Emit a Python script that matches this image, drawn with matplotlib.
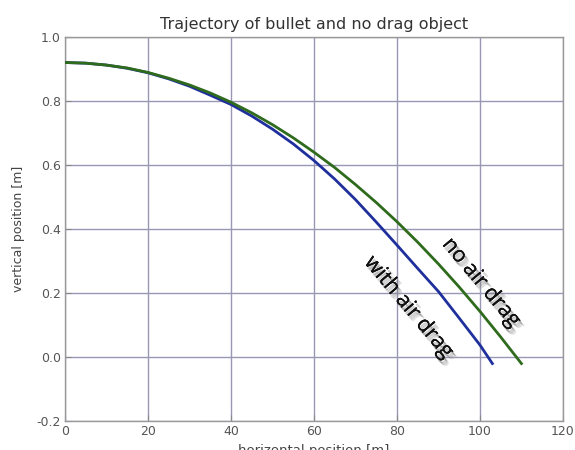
import matplotlib
matplotlib.use("Agg")
import matplotlib.pyplot as plt
import matplotlib.patheffects as pe

# horizontal positions [m] and heights [m]
x_nodrag = [0, 5, 10, 15, 20, 25, 30, 35, 40, 45, 50, 55, 60, 65, 70, 75,
            80, 85, 90, 95, 100, 105, 110]
y_nodrag = [0.920, 0.918, 0.912, 0.903, 0.889, 0.871, 0.850, 0.825, 0.796,
            0.763, 0.726, 0.685, 0.640, 0.592, 0.539, 0.483, 0.423, 0.359,
            0.291, 0.219, 0.143, 0.063, -0.020]

x_drag = [0, 5, 10, 15, 20, 25, 30, 35, 40, 45, 50, 55, 60, 65, 70, 75,
          80, 85, 90, 95, 100, 103]
y_drag = [0.920, 0.918, 0.912, 0.902, 0.888, 0.869, 0.846, 0.818, 0.789,
          0.753, 0.712, 0.666, 0.614, 0.556, 0.492, 0.422, 0.350, 0.277,
          0.205, 0.122, 0.038, -0.020]

xticks = [0, 20, 40, 60, 80, 100, 120]
yticks = [-0.2, 0.0, 0.2, 0.4, 0.6, 0.8, 1.0]

fig = plt.figure(figsize=(5.75, 4.5), dpi=100)
ax = fig.add_axes([0.113, 0.064, 0.866, 0.854])

ax.plot(x_drag, y_drag, color="#1f2f9c", linewidth=2.0, zorder=3)
ax.plot(x_nodrag, y_nodrag, color="#2f6b1c", linewidth=2.0, zorder=3)

ax.set_xlim(0, 120)
ax.set_ylim(-0.2, 1.0)
ax.set_xticks(xticks)
ax.set_yticks(yticks)
ax.set_xticklabels([str(v) for v in xticks])
ax.set_yticklabels([f"{v:.1f}" for v in yticks])
ax.tick_params(direction="in", length=4, color="#888888", labelcolor="#555555",
               labelsize=9, pad=3)
for s in ax.spines.values():
    s.set_color("#999999")
    s.set_linewidth(1.0)
ax.grid(True, color="#9898b4", linewidth=1.0, linestyle="-")
ax.set_axisbelow(True)

ax.set_title("Trajectory of bullet and no drag object", fontsize=11.5,
             color="#333333", pad=6)
ax.set_xlabel("horizontal position [m]", fontsize=9.5, color="#444444", labelpad=4)
ax.set_ylabel("vertical position [m]", fontsize=9, color="#444444", labelpad=8)

shadow = [pe.withSimplePatchShadow(offset=(3, -4), shadow_rgbFace="#999999",
                                   alpha=0.3),
          pe.withSimplePatchShadow(offset=(2, -3), shadow_rgbFace="#777777",
                                   alpha=0.35),
          pe.withSimplePatchShadow(offset=(1, -2), shadow_rgbFace="#666666",
                                   alpha=0.3)]
ax.text(100.3, 0.232, "no air drag", rotation=-50, fontsize=15.5, family="Open Sans",
        color="#111111", ha="center", va="center", path_effects=shadow, zorder=4)
ax.text(82.8, 0.155, "with air drag", rotation=-50, fontsize=15.5, family="Open Sans",
        color="#111111", ha="center", va="center", path_effects=shadow, zorder=4)

fig.savefig("out.png", dpi=100)
